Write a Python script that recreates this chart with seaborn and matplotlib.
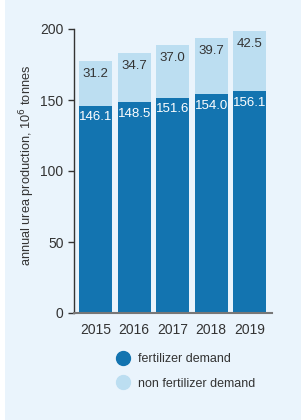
import matplotlib
matplotlib.use("Agg")
import matplotlib.pyplot as plt
import seaborn as sns
import pandas as pd
from matplotlib.patches import Rectangle
from matplotlib.lines import Line2D

years = ["2015", "2016", "2017", "2018", "2019"]
fertilizer = [146.1, 148.5, 151.6, 154.0, 156.1]
non_fertilizer = [31.2, 34.7, 37.0, 39.7, 42.5]

dark = "#1374b0"
light = "#bcdef1"
bg = "#eaf4fc"
txt = "#333333"

df = pd.DataFrame({"year": years, "fert": fertilizer, "nonfert": non_fertilizer})
df["total"] = df["fert"] + df["nonfert"]

sns.set_style("white")
plt.rcParams["font.family"] = ["Liberation Sans Narrow", "Liberation Sans", "DejaVu Sans"]

fig = plt.figure(figsize=(3.01, 4.20), dpi=100)
fig.patch.set_facecolor("white")
fig.patches.append(Rectangle((5 / 301, 0), 1, 1, transform=fig.transFigure,
                             facecolor=bg, edgecolor="none", zorder=-10))
ax = fig.add_axes([74 / 301, 1 - 313 / 420, 198 / 301, 284 / 420])
ax.set_facecolor("none")

# empilement: total en clair, puis la part engrais par-dessus
sns.barplot(data=df, x="year", y="total", color=light, width=0.86, ax=ax,
            saturation=1, linewidth=0, edgecolor="none")
sns.barplot(data=df, x="year", y="fert", color=dark, width=0.86, ax=ax,
            saturation=1, linewidth=0, edgecolor="none")

for i, row in df.iterrows():
    ax.text(i, row["fert"] - 4, f"{row['fert']:.1f}", ha="center", va="top",
            color="white", fontsize=9.5)
    ax.text(i, row["total"] - 5, f"{row['nonfert']:.1f}", ha="center", va="top",
            color=txt, fontsize=9.5)

ax.set_ylim(0, 200)
ax.set_xlim(-0.56, 4.58)
ax.set_yticks([0, 50, 100, 150, 200])
ax.set_xlabel("")
ax.set_ylabel("annual urea production, 10$^6$ tonnes", fontsize=9.2, color=txt, labelpad=2)
ax.yaxis.label.set_y(0.518)
ax.tick_params(axis="y", length=4, width=1, color=txt, labelsize=10, labelcolor=txt, left=True)
ax.tick_params(axis="x", length=0, labelsize=10, labelcolor=txt, pad=7)
for s in ["top", "right"]:
    ax.spines[s].set_visible(False)
ax.spines["left"].set_color(txt)
ax.spines["left"].set_linewidth(1)
ax.spines["bottom"].set_color("#777777")
ax.spines["bottom"].set_linewidth(1.5)

handles = [Line2D([], [], marker="o", linestyle="none", markersize=10, color=dark),
           Line2D([], [], marker="o", linestyle="none", markersize=10, color=light)]
fig.legend(handles, ["fertilizer demand", "non fertilizer demand"],
           loc="upper left", bbox_to_anchor=(104 / 301, 1 - 342 / 420),
           frameon=False, fontsize=9, labelcolor=txt, handletextpad=0.6,
           labelspacing=1.0, handlelength=1.2)

fig.savefig("out.png", dpi=100, facecolor=fig.get_facecolor())
